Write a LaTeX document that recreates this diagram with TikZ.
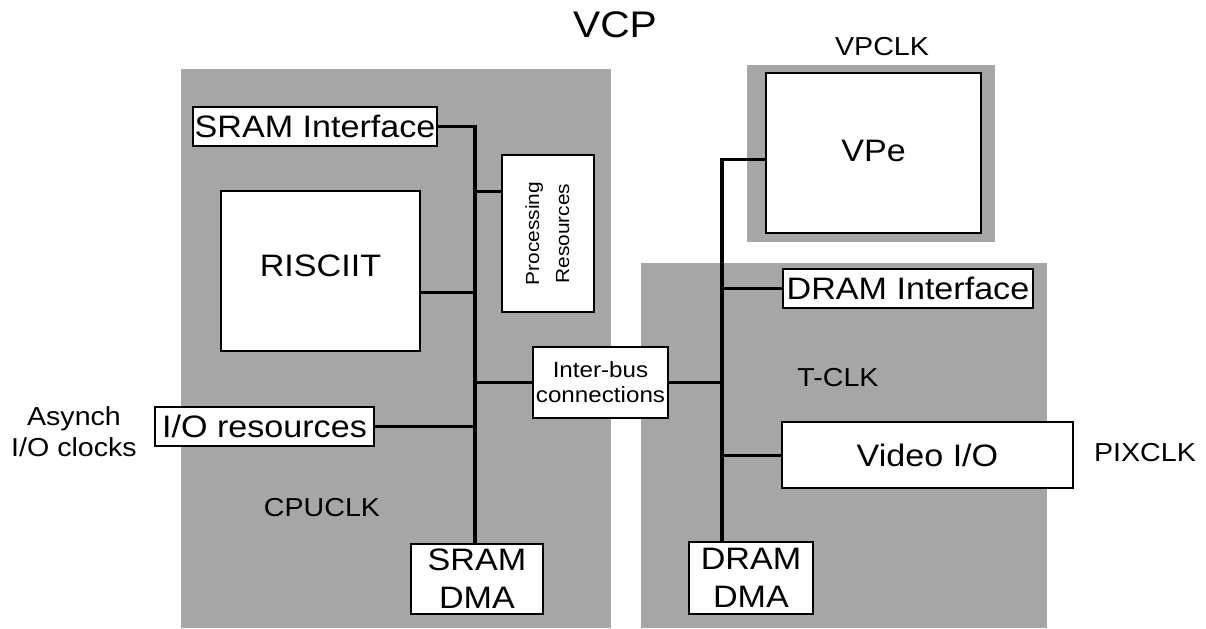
\documentclass[tikz,border=0pt]{standalone}
\usepackage{fontspec}
\setmainfont{Liberation Sans}[FakeStretch=1.1]
\usetikzlibrary{calc}

\newcommand{\fsz}[2]{\fontsize{#1}{#2}\selectfont}

\begin{document}
\begin{tikzpicture}[x=0.5pt, y=-0.5pt, line join=miter,
    zone/.style={fill=black!35, draw=none},
    blk/.style={draw, fill=white, line width=1.3pt, inner sep=0pt, align=center, font=\fsz{15.5}{19}},
    bus/.style={line width=1.8pt},
    tap/.style={line width=1.5pt},
    clk/.style={font=\fsz{13}{15.5}, align=center}]
  \useasboundingbox (0,0) rectangle (1206,628);

  % clock domains
  \fill[zone] (181,69) rectangle (611,628);
  \fill[zone] (641,263) rectangle (1047,628);
  \fill[zone] (747,65) rectangle (995,242);

  % CPUCLK side
  \node[blk, minimum width=122pt, minimum height=19.5pt] (sramif) at (315,126.5) {SRAM Interface};
  \node[blk, minimum width=46pt, minimum height=78.5pt, font=\fsz{9.5}{15}] (proc) at (548,233.5)
       {\rotatebox{90}{\begin{tabular}{@{}c@{}}Processing\\Resources\end{tabular}}};
  \node[blk, minimum width=99.5pt, minimum height=80pt] (risc) at (320.5,271) {\raisebox{5.5pt}{RISCIIT}};
  \node[blk, minimum width=109.5pt, minimum height=19.5pt] (iores) at (264.5,426.5) {I/O resources};
  \node[blk, minimum width=66pt, minimum height=35pt] (sramdma) at (477,579) {SRAM\\DMA};
  \node[blk, minimum width=67.5pt, minimum height=35.5pt, font=\fsz{11}{12.5}] (interbus) at (600.5,382.5)
       {Inter-bus\\connections};

  % T-CLK and VPCLK side
  \node[blk, minimum width=107.5pt, minimum height=80pt] (vpe) at (873.5,153) {\raisebox{2.5pt}{VPe}};
  \node[blk, minimum width=125pt, minimum height=19.5pt] (dramif) at (908,288.5) {DRAM Interface};
  \node[blk, minimum width=145.5pt, minimum height=33pt] (video) at (927.5,455) {Video I/O};
  \node[blk, minimum width=62pt, minimum height=36pt] (dramdma) at (751,578) {DRAM\\DMA};

  % buses
  \coordinate (lbus) at (475,0);
  \coordinate (rbus) at (722,0);
  \coordinate (vpetap) at ($(vpe.north west)!0.54!(vpe.south west)$);
  \draw[bus] (sramif.east) -- (sramif.east -| lbus) -- (lbus |- sramdma.north);
  \draw[bus] (vpetap) -- (vpetap -| rbus) -- (rbus |- dramdma.north);

  % taps onto the buses
  \coordinate (proctap) at ($(proc.north west)!0.236!(proc.south west)$);
  \coordinate (risctap) at ($(risc.north east)!0.63!(risc.south east)$);
  \draw[tap] (proctap) -- (proctap -| lbus);
  \draw[tap] (risctap) -- (risctap -| lbus);
  \draw[tap] (iores.east) -- (iores.east -| lbus);
  \draw[tap] (interbus.west) -- (interbus.west -| lbus);
  \draw[tap] (interbus.east) -- (interbus.east -| rbus);
  \draw[tap] (dramif.west) -- (dramif.west -| rbus);
  \draw[tap] (video.west) -- (video.west -| rbus);

  % labels
  \node[font=\fsz{18.5}{22}] (vcp) at (615,25) {VCP};
  \node[clk] (vpclk) at (882,47) {VPCLK};
  \node[clk] (cpuclk) at (322,508) {CPUCLK};
  \node[clk] (tclk) at (838,378) {T-CLK};
  \node[clk] (pixclk) at (1145,453) {PIXCLK};
  \node[clk] (async) at (74,432) {Asynch\\I/O clocks};
\end{tikzpicture}
\end{document}
